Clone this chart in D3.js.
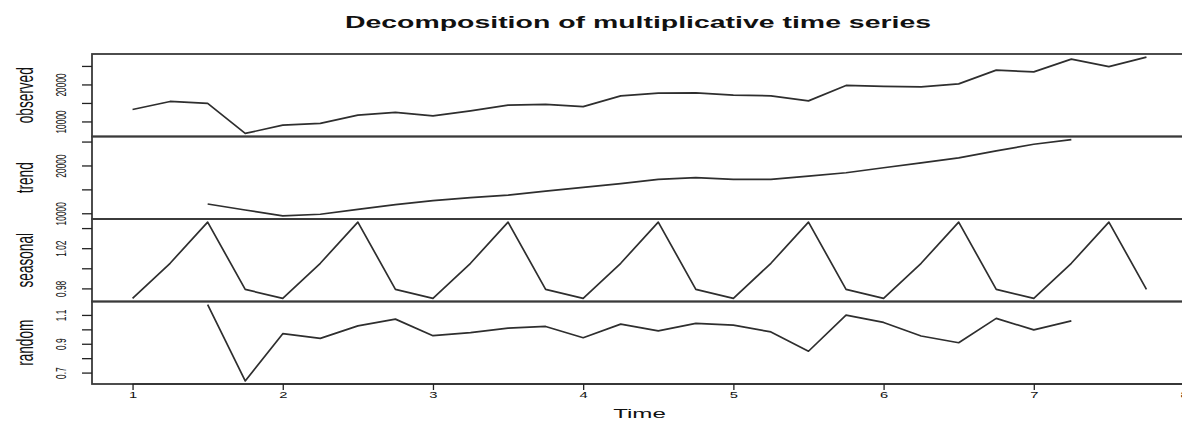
<!DOCTYPE html>
<html>
<head>
<title>Decomposition of multiplicative time series</title>
<script src="https://d3js.org/d3.v7.min.js"></script>
<style>
  body { margin: 0; background: #fff; }
  text { font-family: "Liberation Sans", Arial, Helvetica, sans-serif; fill: #111; }
</style>
</head>
<body>
<div id="chartDiv"></div>
<script>
// quarterly time index
var time = [1, 1.25, 1.5, 1.75, 2, 2.25, 2.5, 2.75, 3, 3.25, 3.5, 3.75, 4, 4.25,
            4.5, 4.75, 5, 5.25, 5.5, 5.75, 6, 6.25, 6.5, 6.75, 7, 7.25, 7.5, 7.75];

var observed = [13240, 15400, 14870, 6760, 9000, 9460, 11700, 12430, 11510, 12870, 14400, 14600, 14000, 16920,
                17650, 17730, 17110, 16920, 15570, 19730, 19460, 19350, 20160, 23870, 23400, 26840, 24800, 27400];

var trend = [null, null, 11940, 10690, 9440, 9790, 10830, 11810, 12650, 13270, 13810, 14650, 15400, 16190,
             17080, 17440, 17080, 17080, 17770, 18480, 19520, 20560, 21600, 23060, 24440, 25420, null, null];

var seasonal = [0.970, 1.005, 1.046, 0.979, 0.970, 1.005, 1.046, 0.979, 0.970, 1.005, 1.046, 0.979, 0.970, 1.005,
                1.046, 0.979, 0.970, 1.005, 1.046, 0.979, 0.970, 1.005, 1.046, 0.979, 0.970, 1.005, 1.046, 0.979];

var random = [null, null, 1.172, 0.642, 0.970, 0.937, 1.024, 1.071, 0.956, 0.977, 1.008, 1.020, 0.942, 1.036,
              0.989, 1.041, 1.029, 0.982, 0.848, 1.099, 1.048, 0.954, 0.907, 1.076, 0.996, 1.059, null, null];

var panelNames = ["observed", "trend", "seasonal", "random"];

// y ticks and the labels R kept (overlapping ones dropped)
var obsTicks = [10000, 15000, 20000, 25000];
var obsLabels = ["10000", "", "20000", ""];
var trendTicks = [10000, 15000, 20000, 25000];
var trendLabels = ["10000", "", "20000", ""];
var seasTicks = [0.98, 1.00, 1.02, 1.04];
var seasLabels = ["0.98", "", "1.02", ""];
var randTicks = [0.7, 0.8, 0.9, 1.0, 1.1];
var randLabels = ["0.7", "", "0.9", "", "1.1"];

var timeTicks = [1, 2, 3, 4, 5, 6, 7, 8];
var timeLabels = ["1", "2", "3", "4", "5", "6", "7", "8"];

var panels = [
  {name: panelNames[0], values: observed, ticks: obsTicks, labels: obsLabels},
  {name: panelNames[1], values: trend, ticks: trendTicks, labels: trendLabels},
  {name: panelNames[2], values: seasonal, ticks: seasTicks, labels: seasLabels},
  {name: panelNames[3], values: random, ticks: randTicks, labels: randLabels}
];

// layout (the picture is stretched sideways, so text gets a horizontal scale)
var W = 1182, H = 426;
var left = 92, right = 1187, top0 = 54, panelH = 82.5;
var sx = 1.8;

// R style range: data extent plus 4% each side
function pad(ext) {
  var d = (ext[1] - ext[0]) * 0.04;
  return [ext[0] - d, ext[1] + d];
}

var svg = d3.select("#chartDiv").append("svg")
  .attr("width", W)
  .attr("height", H);

var x = d3.scaleLinear()
  .domain(pad(d3.extent(time)))
  .range([left, right]);

panels.forEach(function(p, i) {
  var top = top0 + i * panelH;
  var vals = p.values.filter(function(v) { return v != null; });
  var y = d3.scaleLinear()
    .domain(pad(d3.extent(vals)))
    .range([top + panelH, top]);

  var line = d3.line()
    .defined(function(d) { return d != null; })
    .x(function(d, j) { return x(time[j]); })
    .y(function(d) { return y(d); });

  svg.append("path")
    .datum(p.values)
    .attr("d", line)
    .attr("fill", "none")
    .attr("stroke", "#2e2e2e")
    .attr("stroke-width", 1.7)
    .attr("stroke-linejoin", "round");

  svg.append("rect")
    .attr("x", left)
    .attr("y", top)
    .attr("width", right - left)
    .attr("height", panelH)
    .attr("fill", "none")
    .attr("stroke", "#3a3a3a")
    .attr("stroke-width", 1.8);

  var yAxis = d3.axisLeft(y)
    .tickValues(p.ticks)
    .tickSize(10)
    .tickFormat(function(d, k) { return p.labels[k]; });

  var ga = svg.append("g")
    .attr("transform", "translate(" + left + ",0)")
    .attr("color", "#222")
    .call(yAxis);
  ga.select(".domain").remove();
  ga.selectAll(".tick line").attr("stroke-width", 1.3);
  ga.selectAll("text")
    .attr("x", 0).attr("y", 0).attr("dy", 0)
    .attr("text-anchor", "middle")
    .style("font-size", "8.4px")
    .attr("transform", "translate(-26,0) scale(" + sx + ",1) rotate(-90)");

  // panel name
  svg.append("text")
    .attr("text-anchor", "middle")
    .style("font-size", "13.6px")
    .attr("transform", "translate(" + (left - 59) + "," + (top + panelH / 2) + ") scale(" + sx + ",1) rotate(-90)")
    .text(p.name);
});

// time axis
var bottom = top0 + 4 * panelH;
var xAxis = d3.axisBottom(x)
  .tickValues(timeTicks)
  .tickSize(6)
  .tickFormat(function(d, k) { return timeLabels[k]; });

var gx = svg.append("g")
  .attr("transform", "translate(0," + bottom + ")")
  .attr("color", "#222")
  .call(xAxis);
gx.select(".domain").attr("d", "M" + x(timeTicks[0]) + ",0H" + x(timeTicks[timeTicks.length - 1]));
gx.selectAll(".tick line").attr("stroke-width", 1.3);
gx.selectAll("text")
  .attr("y", 0).attr("dy", 0)
  .style("font-size", "8.2px")
  .attr("transform", "translate(0,14) scale(" + sx + ",1)");

svg.append("text")
  .attr("text-anchor", "middle")
  .style("font-size", "13.4px")
  .attr("transform", "translate(" + ((left + right) / 2) + ",418) scale(" + sx + ",1)")
  .text("Time");

// title
svg.append("text")
  .attr("text-anchor", "middle")
  .style("font-size", "15.8px")
  .style("font-weight", "bold")
  .attr("transform", "translate(638,28) scale(" + sx + ",1)")
  .text("Decomposition of multiplicative time series");
</script>
</body>
</html>
